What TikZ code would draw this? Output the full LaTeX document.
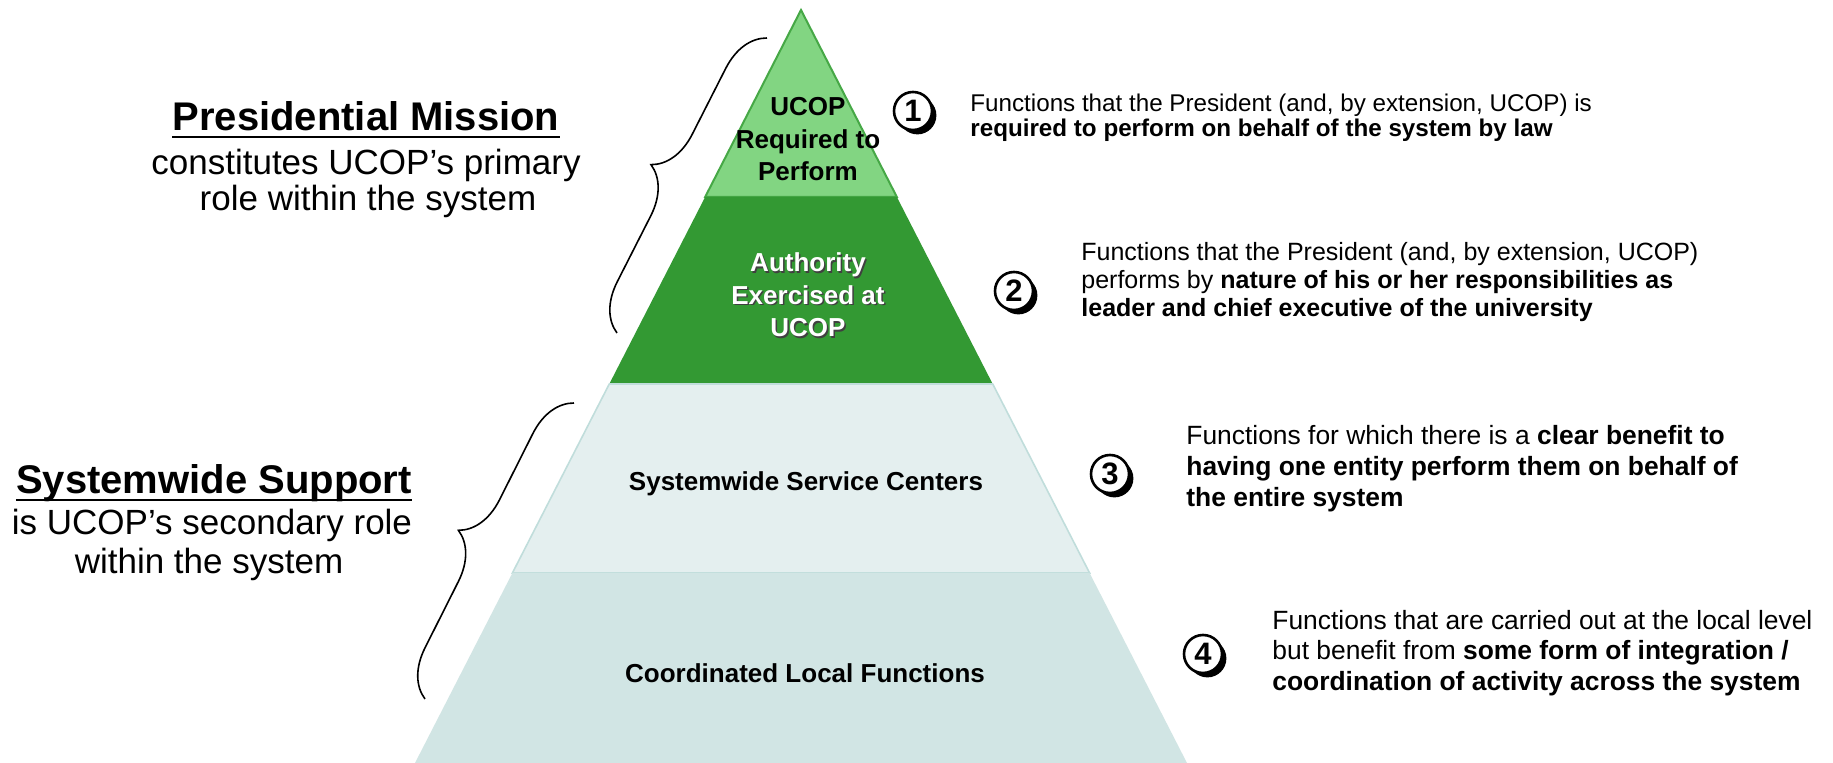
\documentclass[tikz,border=0pt]{standalone}
\usepackage{fontspec}
\setmainfont{Liberation Sans}
\usetikzlibrary{decorations.pathreplacing,shadows}

\definecolor{topgreen}{RGB}{130,213,130}
\definecolor{edgegreen}{RGB}{70,168,70}
\definecolor{midgreen}{RGB}{51,153,51}
\definecolor{paleteal}{RGB}{228,239,239}
\definecolor{softteal}{RGB}{209,229,228}
\definecolor{tealedge}{RGB}{192,221,219}

\newcommand{\pslope}{0.5126}
\newcommand{\apexx}{801}
\newcommand{\apexy}{10}
\newcommand{\band}[3]{\path[#3] ({\apexx-\pslope*(#1-\apexy)},#1) -- ({\apexx+\pslope*(#1-\apexy)},#1) -- ({\apexx+\pslope*(#2-\apexy)},#2) -- ({\apexx-\pslope*(#2-\apexy)},#2) -- cycle;}
\newcommand{\numcirc}[3]{\node[numdot] (#1) at (#2) {#3};}

\begin{document}
\begin{tikzpicture}[x=0.5pt, y=-0.5pt,
    bandlbl/.style={inner sep=0pt, align=center, font=\bfseries\fontsize{13}{16.25}\selectfont},
    desctext/.style={inner sep=0pt, align=left, anchor=west},
    headtext/.style={inner sep=0pt, anchor=base, font=\bfseries\fontsize{20}{24}\selectfont},
    subtext/.style={inner sep=0pt, anchor=base, font=\fontsize{17.5}{21}\selectfont},
    curly/.style={decorate, decoration={brace, amplitude=23pt}, line width=0.8pt},
    numdot/.style={circle, draw=black, line width=1.3pt, fill=white, minimum size=19pt, inner sep=0pt,
        font=\bfseries\fontsize{15.5}{15.5}\selectfont,
        drop shadow={shadow xshift=2.2pt, shadow yshift=-2.2pt, fill=black, opacity=1}}]
    \path[use as bounding box, fill=white] (0,0) rectangle (1833,763);

    % pyramid, top to bottom
    \band{10}{197}{fill=topgreen, draw=edgegreen, line width=1pt}
    \band{197}{384}{fill=midgreen}
    \band{384}{573}{fill=paleteal, draw=tealedge, line width=0.8pt}
    \band{573}{763}{fill=softteal}

    \node[bandlbl] (req) at (808,139.5) {UCOP\\Required to\\Perform};
    \node[bandlbl, text=black!75] (auth-shadow) at (809.5,296.5) {Authority\\Exercised at\\UCOP};
    \node[bandlbl, text=white] (auth) at (808,295) {Authority\\Exercised at\\UCOP};
    \node[bandlbl] (centers) at (806,484) {Systemwide Service Centers};
    \node[bandlbl] (local) at (805,673) {Coordinated Local Functions};

    % numbered descriptions
    \numcirc{n1}{913,111}{1}
    \numcirc{n2}{1014,291}{2}
    \numcirc{n3}{1110,474}{3}
    \numcirc{n4}{1203,654}{4}

    \node[desctext, font=\fontsize{12.1}{12.4}\selectfont] (d1) at (970,118)
        {Functions that the President (and, by extension, UCOP) is\\
         \textbf{required to perform on behalf of the system by law}};
    \node[desctext, font=\fontsize{12.5}{14}\selectfont] (d2) at (1081,282)
        {Functions that the President (and, by extension, UCOP)\\
         performs by \textbf{nature of his or her responsibilities as}\\
         \textbf{leader and chief executive of the university}};
    \node[desctext, font=\fontsize{13.2}{15.5}\selectfont] (d3) at (1186,469)
        {Functions for which there is a \textbf{clear benefit to}\\
         \textbf{having one entity perform them on behalf of}\\
         \textbf{the entire system}};
    \node[desctext, font=\fontsize{13.2}{15.3}\selectfont] (d4) at (1272,653)
        {Functions that are carried out at the local level\\
         but benefit from \textbf{some form of integration /}\\
         \textbf{coordination of activity across the system}};

    % roles on the left
    \node[headtext] (pm) at (366,131) {Presidential Mission};
    \draw[line width=1.4pt] ([yshift=-3pt]pm.base west) -- ([yshift=-3pt]pm.base east);
    \node[subtext] (pm1) at (366,175) {constitutes UCOP’s primary};
    \node[subtext] (pm2) at (368,211) {role within the system};

    \node[headtext] (ss) at (214,494) {Systemwide Support};
    \draw[line width=1.4pt] ([yshift=-3pt]ss.base west) -- ([yshift=-3pt]ss.base east);
    \node[subtext] (ss1) at (212,535) {is UCOP’s secondary role};
    \node[subtext] (ss2) at (209,574) {within the system};

    \coordinate (pmbot) at (617,333);
    \coordinate (pmtop) at (767,38);
    \coordinate (ssbot) at (425,699);
    \coordinate (sstop) at (574,403);
    \draw[curly] (pmbot) -- (pmtop);
    \draw[curly] (ssbot) -- (sstop);
\end{tikzpicture}
\end{document}
